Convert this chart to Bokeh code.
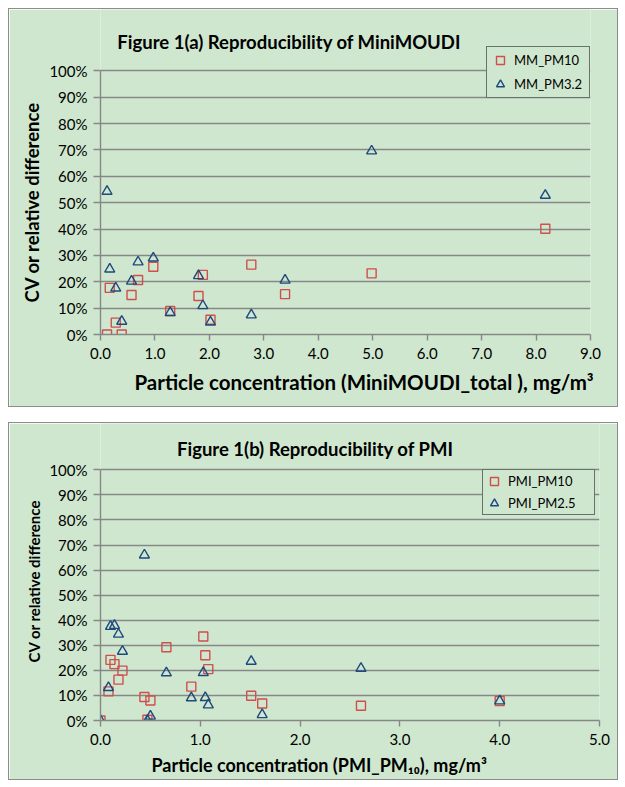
from bokeh.plotting import figure
from bokeh.models import Range1d, FixedTicker, NumeralTickFormatter, Label, Legend, LegendItem, Title
from bokeh.layouts import column
from bokeh.embed import file_html
from bokeh.resources import INLINE

# ---------------- data ----------------
mm_conc = [0.12, 0.17, 0.28, 0.39, 0.57, 0.69, 0.97, 1.28, 1.80, 1.88, 2.02, 2.77, 3.39, 4.98, 8.17]
mm_pm10 = [0.000, 0.177, 0.045, 0.000, 0.150, 0.207, 0.257, 0.089, 0.146, 0.226, 0.056, 0.265, 0.153, 0.232, 0.401]
mm_pm32 = [0.543, 0.248, 0.176, 0.050, 0.202, 0.275, 0.290, 0.083, 0.223, 0.109, 0.047, 0.074, 0.206, 0.696, 0.528]

pmi_conc = [0.00, 0.08, 0.10, 0.14, 0.18, 0.22, 0.44, 0.47, 0.50, 0.66, 0.91, 1.03, 1.05, 1.08, 1.51, 1.62, 2.61, 4.00]
pmi_pm10 = [0.000, 0.116, 0.242, 0.225, 0.163, 0.199, 0.094, 0.003, 0.080, 0.292, 0.135, 0.335, 0.260, 0.205, 0.099, 0.068, 0.059, 0.078]
pmi_pm25 = [0.000, 0.131, 0.375, 0.379, 0.344, 0.276, 0.660, 0.000, 0.017, 0.190, 0.090, 0.191, 0.091, 0.062, 0.236, 0.023, 0.208, 0.078]

y_ticks = [0.0, 0.1, 0.2, 0.3, 0.4, 0.5, 0.6, 0.7, 0.8, 0.9, 1.0]
mm_x_ticks = [0, 1, 2, 3, 4, 5, 6, 7, 8, 9]
pmi_x_ticks = [0, 1, 2, 3, 4, 5]

title_a = "Figure 1(a) Reproducibility of MiniMOUDI"
title_b = "Figure 1(b) Reproducibility of PMI"
xlabel_a = "Particle concentration (MiniMOUDI_total ), mg/m\u00b3"
xlabel_b = "Particle concentration (PMI_PM\u2081\u2080), mg/m\u00b3"
ylabel = "CV or relative difference"
legend_a = ["MM_PM10", "MM_PM3.2"]
legend_b = ["PMI_PM10", "PMI_PM2.5"]

# ---------------- style ----------------
BG = "#cfe7cf"
GRID = "#878787"
RED = "#cf4f4c"
BLUE = "#1f497d"
FONT = "Lato"


def make_chart(xs, s1, s2, xmax, xticks, names, title, xlabel,
               pw, ph, extra_top, bl, br, bb, title_px, xlabel_off, xlabel_size, xlabel_standoff,
               ylabel_off, ylabel_size, legend_loc, legend_lw, legend_spacing, legend_pad, margin):
    # frame extends above the 0-100% area so the title and legend are drawn inside it
    y_end = 1.0 + extra_top / ph
    p = figure(frame_width=pw, frame_height=ph + extra_top, min_border_left=bl, min_border_right=br,
               min_border_top=0, min_border_bottom=bb, title=None,
               x_range=Range1d(0, xmax), y_range=Range1d(0, y_end),
               output_backend="svg", toolbar_location=None,
               background_fill_color=BG, border_fill_color=BG,
               margin=margin, styles={"border": "1px solid #8c8c8c"})
    p.outline_line_color = None
    p.xgrid.grid_line_color = None
    p.ygrid.grid_line_color = GRID
    p.ygrid.grid_line_width = 1.4
    p.ygrid.ticker = FixedTicker(ticks=y_ticks)

    p.yaxis.ticker = FixedTicker(ticks=y_ticks)
    p.yaxis.formatter = NumeralTickFormatter(format="0%")
    p.yaxis.bounds = (0, 1)
    p.xaxis.ticker = FixedTicker(ticks=xticks)
    p.xaxis.formatter = NumeralTickFormatter(format="0.0")
    for ax in (p.xaxis, p.yaxis):
        ax.axis_line_color = GRID
        ax.axis_line_width = 1.4
        ax.major_tick_line_color = GRID
        ax.major_tick_line_width = 1.4
        ax.major_tick_in = 0
        ax.minor_tick_line_color = None
        ax.major_label_text_font = FONT
        ax.major_label_text_font_size = "15px"
        ax.major_label_text_color = "#000000"
    p.yaxis.major_tick_out = 7
    p.xaxis.major_tick_out = 6
    p.yaxis.major_label_standoff = 6
    p.xaxis.major_label_standoff = 7

    r1 = p.scatter(xs, s1, marker="square", size=9, fill_color=None, line_color=RED, line_width=1.4)
    r2 = p.scatter(xs, s2, marker="triangle", size=10, fill_color=None, line_color=BLUE, line_width=1.4)

    # chart title (inside the extended frame)
    tx = title_px[0] / pw * xmax
    ty = 1.0 + title_px[1] / ph
    p.add_layout(Label(x=tx, y=ty, text=title, text_align="center", text_baseline="middle",
                       text_font=FONT, text_font_style="bold", text_font_size="18.5px", text_color="#000000"))

    # x axis title
    p.add_layout(Title(text=xlabel, align="left", offset=xlabel_off, standoff=xlabel_standoff,
                       text_font=FONT, text_font_style="bold", text_font_size=xlabel_size,
                       text_color="#000000"), "below")
    # y axis title
    p.add_layout(Title(text=ylabel, align="left", offset=ylabel_off, standoff=8,
                       text_font=FONT, text_font_style="bold", text_font_size=ylabel_size,
                       text_color="#000000"), "left")

    leg = Legend(items=[LegendItem(label=names[0], renderers=[r1]),
                        LegendItem(label=names[1], renderers=[r2])],
                 location=legend_loc)
    leg.glyph_width = 20
    leg.glyph_height = 20
    leg.label_height = 20
    leg.label_width = legend_lw
    leg.label_standoff = 4
    leg.spacing = legend_spacing
    leg.padding = legend_pad
    leg.margin = 0
    leg.label_text_font = FONT
    leg.label_text_font_size = "13px"
    leg.label_text_color = "#000000"
    leg.border_line_color = "#000000"
    leg.border_line_width = 1
    leg.background_fill_color = BG
    leg.background_fill_alpha = 1.0
    p.add_layout(leg, "center")
    return p


p1 = make_chart(mm_conc, mm_pm10, mm_pm32, 9, mm_x_ticks, legend_a, title_a, xlabel_a,
                pw=488, ph=262, extra_top=61, bl=91, br=29, bb=74,
                title_px=(188, 29), xlabel_off=34, xlabel_size="20.5px", xlabel_standoff=12,
                ylabel_off=32, ylabel_size="18.5px",
                legend_loc=(386, 236), legend_lw=72, legend_spacing=4, legend_pad=3,
                margin=(8, 0, 0, 8))

p2 = make_chart(pmi_conc, pmi_pm10, pmi_pm25, 5, pmi_x_ticks, legend_b, title_b, xlabel_b,
                pw=497, ph=249, extra_top=46, bl=89, br=22, bb=61,
                title_px=(214, 21), xlabel_off=51, xlabel_size="18px", xlabel_standoff=8,
                ylabel_off=58, ylabel_size="15px",
                legend_loc=(382, 205), legend_lw=85, legend_spacing=2, legend_pad=1,
                margin=(15, 0, 0, 8))

layout = column(p1, p2, spacing=0)
open("out.html", "w").write(file_html(layout, INLINE))
